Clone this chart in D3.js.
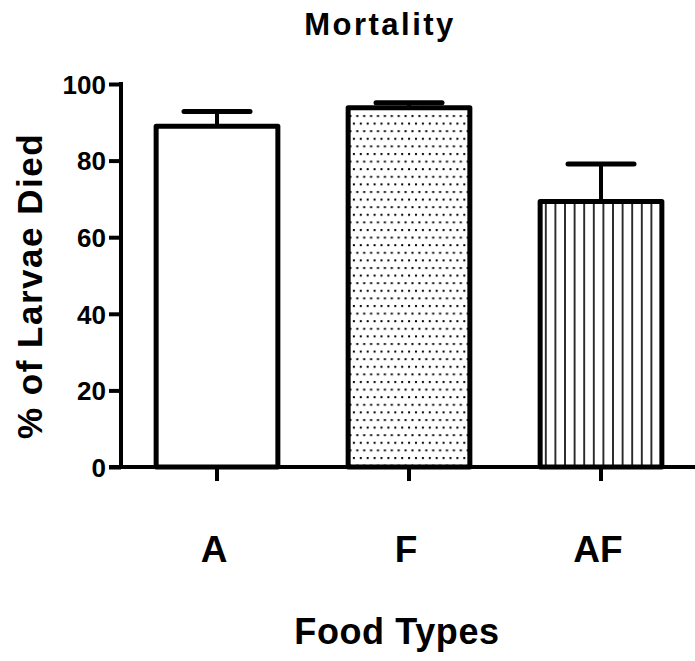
<!DOCTYPE html>
<html><head><meta charset="utf-8">
<script src="https://cdn.jsdelivr.net/npm/d3@7"></script>
<style>body{margin:0;background:#fff}svg{display:block}text{font-family:Arial,"Liberation Sans",sans-serif;font-weight:bold;fill:#000}</style>
</head><body>
<svg id="chart" width="695" height="661"></svg>
<script>
const categories = ["A", "F", "AF"];
const means = [89, 93.8, 69.3];
const errors = [3.8, 1.3, 9.8];
const patterns = ["none", "dots", "stripes"];
const yTicks = [0, 20, 40, 60, 80, 100];

const svg = d3.select("#chart");
const defs = svg.append("defs");

const dots = defs.append("pattern").attr("id", "dots").attr("patternUnits", "userSpaceOnUse")
  .attr("width", 6.9).attr("height", 15.2);
dots.append("rect").attr("x", 1).attr("y", 1).attr("width", 2).attr("height", 2).attr("fill", "#000");
dots.append("rect").attr("x", 4.4).attr("y", 8.6).attr("width", 2).attr("height", 2).attr("fill", "#000");

const stripes = defs.append("pattern").attr("id", "stripes").attr("patternUnits", "userSpaceOnUse")
  .attr("width", 9.6).attr("height", 10).attr("x", 157);
stripes.append("rect").attr("x", 4).attr("y", 0).attr("width", 1.6).attr("height", 10).attr("fill", "#000");

const x = d3.scaleBand().domain(categories).range([121, 697]).paddingInner(0.34).paddingOuter(0.17);
const y = d3.scaleLinear().domain([0, 100]).range([467, 84]);

// bars
const g = svg.append("g");
categories.forEach((c, i) => {
  const fill = patterns[i] === "none" ? "#fff" : `url(#${patterns[i]})`;
  const cx = x(c) + x.bandwidth() / 2;
  g.append("line").attr("x1", cx).attr("x2", cx).attr("y1", y(means[i])).attr("y2", y(means[i] + errors[i]))
    .attr("stroke", "#000").attr("stroke-width", 4);
  g.append("line").attr("x1", cx - 33).attr("x2", cx + 33).attr("y1", y(means[i] + errors[i])).attr("y2", y(means[i] + errors[i]))
    .attr("stroke", "#000").attr("stroke-width", 5).attr("stroke-linecap", "round");
  g.append("rect").attr("x", x(c) + 2.5).attr("y", y(means[i]))
    .attr("width", x.bandwidth() - 5).attr("height", y(0) - y(means[i]))
    .attr("fill", fill).attr("stroke", "#000").attr("stroke-width", 5).attr("stroke-linejoin", "round");
});

// y axis
const yAxis = svg.append("g").attr("transform", "translate(121,0)")
  .call(d3.axisLeft(y).tickValues(yTicks).tickSize(12).tickPadding(3).tickSizeOuter(0));
yAxis.select(".domain").attr("stroke-width", 4).attr("d", `M0,${y(100) - 2}V${y(0)}`);
yAxis.selectAll(".tick line").attr("stroke-width", 4);
yAxis.selectAll(".tick text").style("font-size", "26px").attr("dy", "0.36em")
  .attr("font-family", "Arial, Liberation Sans, sans-serif").attr("font-weight", "bold");

// x axis
const xAxis = svg.append("g").attr("transform", `translate(0,${y(0)})`)
  .call(d3.axisBottom(x).tickSize(14).tickSizeOuter(0).tickFormat(""));
xAxis.select(".domain").attr("stroke-width", 4).attr("d", "M109,0H697");
xAxis.selectAll(".tick line").attr("stroke-width", 4);

// category labels
svg.append("g").selectAll("text").data(categories).join("text")
  .attr("x", d => x(d) + x.bandwidth() / 2 - 3).attr("y", 562)
  .attr("text-anchor", "middle").style("font-size", "37px").text(d => d);

// titles
svg.append("text").attr("x", 380).attr("y", 35).attr("text-anchor", "middle")
  .style("font-size", "31px").style("letter-spacing", "2.5px").text("Mortality");
svg.append("text").attr("x", 397).attr("y", 644).attr("text-anchor", "middle")
  .style("font-size", "36px").style("letter-spacing", "0.6px").text("Food Types");
svg.append("text").attr("transform", "translate(42,286) rotate(-90)").attr("text-anchor", "middle")
  .style("font-size", "35px").style("letter-spacing", "1.5px").text("% of Larvae Died");
</script>
</body></html>
